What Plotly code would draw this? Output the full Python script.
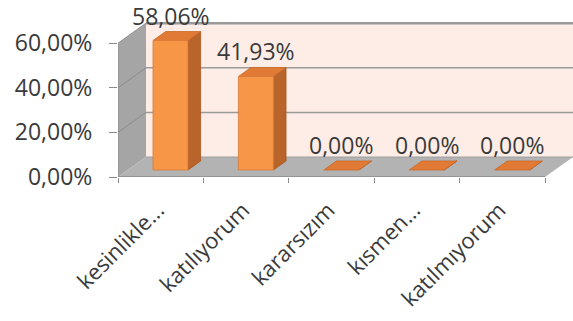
import plotly.graph_objects as go

# Survey answers and their shares (percent)
categories = ["kesinlikle...", "katılıyorum", "kararsızım", "kısmen...", "katılmıyorum"]
values = [58.06, 41.93, 0.00, 0.00, 0.00]
y_ticks = [0, 20, 40, 60]
y_tick_labels = ["0,00%", "20,00%", "40,00%", "60,00%"]

# Oblique 3D look: depth vector of the floor in data units (x: categories, y: percent)
DEPTH = (0.328, 8.97)
BAR_FRONT = 0.35   # bar front face sits this far into the floor depth
BAR_DEPTH = 0.45   # bar thickness as a share of floor depth
HALF_W = 0.205     # half width of a bar front face
Y_MAX = 60

n = len(categories)
x0, x1 = -0.5, n - 0.5
dx, dy = DEPTH

FRONT_COL = "#F79646"
SIDE_COL = "#B9642B"
TOP_COL = "#E07A34"
WALL_COL = "#FDEDE6"
FLOOR_COL = "#B3B3B3"
SIDE_WALL_COL = "#A5A5A5"
GRID_COL = "#9A9A9A"
TEXT_COL = "#3A3A3A"
FONT = "Open Sans"

fig = go.Figure()


def poly(xs, ys, fill, line_col=None, width=0):
    fig.add_trace(go.Scatter(
        x=list(xs) + [xs[0]], y=list(ys) + [ys[0]], mode="lines",
        fill="toself", fillcolor=fill,
        line=dict(color=line_col or fill, width=width),
        hoverinfo="skip", showlegend=False))


def seg(xs, ys, col, width=1):
    fig.add_trace(go.Scatter(
        x=xs, y=ys, mode="lines", line=dict(color=col, width=width),
        hoverinfo="skip", showlegend=False))


# back wall
poly([x0 + dx, x1 + dx, x1 + dx, x0 + dx], [dy, dy, Y_MAX + dy, Y_MAX + dy], WALL_COL)
# left side wall
poly([x0, x0 + dx, x0 + dx, x0], [0, dy, Y_MAX + dy, Y_MAX], SIDE_WALL_COL)
# floor
poly([x0, x1, x1 + dx, x0 + dx], [0, 0, dy, dy], FLOOR_COL)

# gridlines on back wall and side wall
for g in y_ticks[1:]:
    w = 2.5 if g == Y_MAX else 1.5
    seg([x0 + dx, x1 + dx], [g + dy, g + dy], GRID_COL, w)
    seg([x0, x0 + dx], [g, g + dy], "#8C8C8C", 1)
seg([x0 + dx, x1 + dx], [dy, dy], "#A0A0A0", 1)

# bars: top, side, front faces
fx, fy = BAR_FRONT * dx, BAR_FRONT * dy
bx, by = BAR_DEPTH * dx, BAR_DEPTH * dy
for i, v in enumerate(values):
    l, r = i - HALF_W + fx, i + HALF_W + fx
    b, t = fy, fy + v
    poly([r, r + bx, r + bx, r], [b, b + by, t + by, t], SIDE_COL, "#A9561F", 0.8)
    poly([l, r, r + bx, l + bx], [t, t, t + by, t + by], TOP_COL, "#C86A2A", 0.8)
    if v > 0:
        poly([l, r, r, l], [b, b, t, t], FRONT_COL, "#D97A36", 0.8)

# front axis lines
seg([x0, x1], [0, 0], "#8A8A8A", 1.5)
seg([x0, x0], [0, Y_MAX], "#8A8A8A", 1)

# value labels above each bar
for i, v in enumerate(values):
    fig.add_annotation(
        x=i + fx, y=fy + v + by, text=f"{v:.2f}".replace(".", ",") + "%",
        showarrow=False, yanchor="middle", yshift=16, borderpad=0,
        font=dict(family=FONT, size=23, color=TEXT_COL))

fig.update_layout(
    width=573, height=321, margin=dict(l=0, r=0, t=0, b=0),
    paper_bgcolor="white", plot_bgcolor="white",
    xaxis=dict(
        domain=[118 / 573, 1], range=[x0, x0 + 455 / 85.4],
        tickvals=list(range(n)), ticktext=categories, tickangle=-45,
        ticks="", showgrid=False, zeroline=False, showline=False,
        automargin=False,
        tickfont=dict(family=FONT, size=22, color=TEXT_COL),
        ticklabelstandoff=15, ticklabelshift=-3,
        minor=dict(tickmode="array", tickvals=[k - 0.5 for k in range(n + 1)],
                   ticks="outside", ticklen=5, tickcolor="#8A8A8A", tickwidth=1,
                   showgrid=False),
        fixedrange=True),
    yaxis=dict(
        domain=[144 / 321, 1], range=[0, 177 / 2.23],
        tickvals=y_ticks, ticktext=y_tick_labels,
        ticks="outside", ticklen=8, tickcolor="#8A8A8A",
        showgrid=False, zeroline=False, showline=False,
        automargin=False, ticklabelstandoff=12,
        tickfont=dict(family=FONT, size=23, color=TEXT_COL),
        fixedrange=True),
)

fig.write_html("out.html")
